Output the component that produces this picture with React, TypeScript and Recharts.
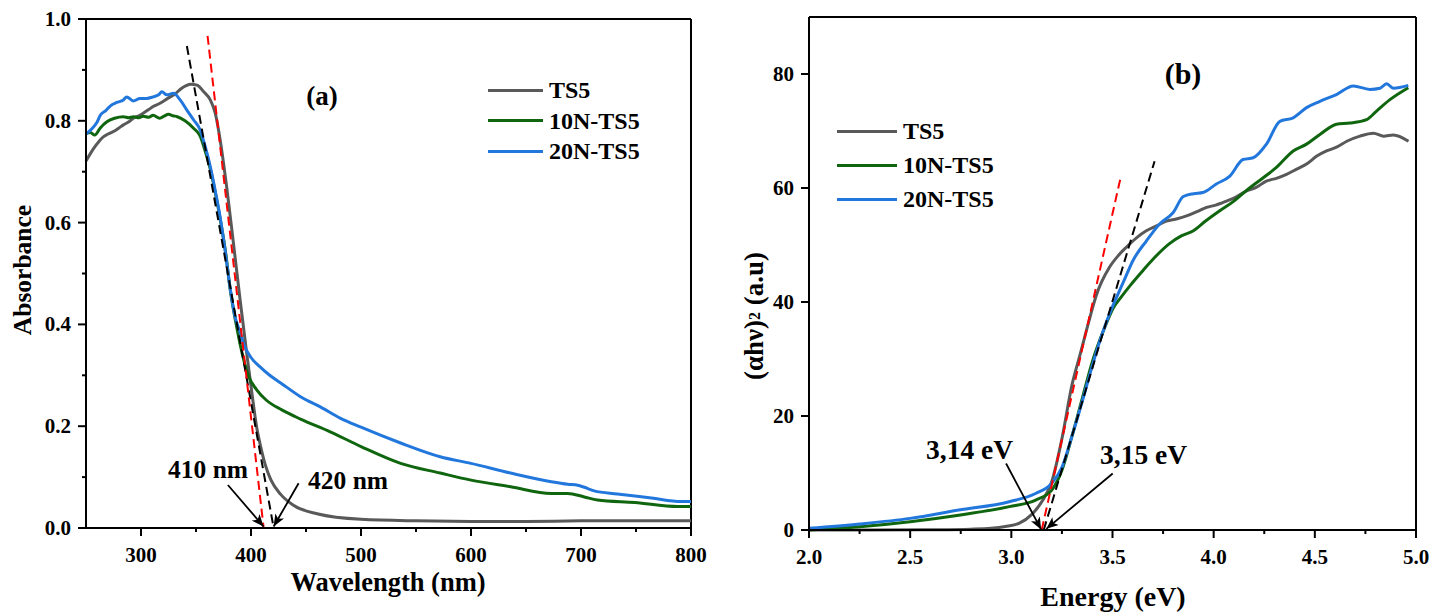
import React from 'react';
import { LineChart, Line, XAxis, YAxis, ReferenceLine, Legend } from 'recharts';

const FONT = '"Liberation Serif", "Times New Roman", serif';

const SERIES_NAMES = ['TS5', '10N-TS5', '20N-TS5'];
const SERIES_COLORS = ['#595959', '#0f660f', '#2277dd'];

// ---------- Panel (a): Absorbance vs wavelength ----------
const WL_MAJOR = [300, 400, 500, 600, 700, 800];
const WL_MINOR = [350, 450, 550, 650, 750];
const ABS_MAJOR = [0, 0.2, 0.4, 0.6, 0.8, 1.0];
const ABS_MINOR = [0.1, 0.3, 0.5, 0.7, 0.9];

const TS5_ABS = [
  [250, 0.721], [257, 0.746], [262, 0.760], [266, 0.769], [270, 0.774], [275, 0.779], [280, 0.786], [284, 0.792],
  [289, 0.798], [293, 0.805], [298, 0.810], [302, 0.815], [307, 0.822], [311, 0.828], [316, 0.833], [320, 0.838],
  [325, 0.845], [330, 0.851], [337, 0.864], [341, 0.869], [345, 0.872], [351, 0.870], [357, 0.857], [363, 0.841],
  [367.5, 0.815], [372, 0.762], [378, 0.668], [384, 0.560], [390, 0.450], [396, 0.345], [401, 0.262], [405, 0.200],
  [409, 0.158], [413, 0.124], [418, 0.095], [427, 0.066], [439, 0.044], [460, 0.028], [500, 0.017], [550, 0.014],
  [600, 0.013], [650, 0.013], [700, 0.014], [750, 0.014], [800, 0.014],
];

const N10_ABS = [
  [250, 0.775], [254, 0.777], [258, 0.772], [263, 0.786], [269, 0.798], [276, 0.805], [284, 0.808], [289, 0.806],
  [293, 0.808], [298, 0.806], [302, 0.809], [307, 0.807], [311, 0.811], [317, 0.805], [321, 0.809], [325, 0.813],
  [329, 0.810], [333, 0.808], [340, 0.800], [348, 0.785], [354, 0.769], [358, 0.743], [363, 0.705], [367, 0.665],
  [372, 0.607], [377, 0.540], [381, 0.470], [384, 0.430], [387, 0.395], [390, 0.362], [394, 0.325], [398, 0.297],
  [405, 0.272], [414, 0.251], [428, 0.232], [445, 0.214], [472, 0.189], [500, 0.160], [536, 0.127], [572, 0.108],
  [600, 0.094], [636, 0.081], [673, 0.068], [688, 0.068], [703, 0.061], [715, 0.055], [749, 0.050], [788, 0.042],
  [800, 0.042],
];

const N20_ABS = [
  [250, 0.774], [256, 0.786], [260, 0.797], [263, 0.811], [268, 0.820], [272, 0.829], [278, 0.836], [284, 0.841],
  [287, 0.847], [293, 0.839], [299, 0.844], [305, 0.844], [311, 0.847], [316, 0.851], [319, 0.857], [323.5, 0.851],
  [329.5, 0.854], [335.6, 0.841], [341.7, 0.821], [347.7, 0.802], [353.8, 0.782], [358.4, 0.749], [363, 0.710],
  [367, 0.668], [372, 0.610], [376.5, 0.545], [381, 0.472], [385, 0.420], [390, 0.385], [394, 0.358], [400, 0.335],
  [408, 0.317], [417, 0.300], [427, 0.285], [445, 0.258], [463, 0.238], [481, 0.216], [500, 0.198], [536, 0.167],
  [572, 0.140], [600, 0.127], [636, 0.108], [673, 0.091], [688, 0.086], [697, 0.084], [703, 0.080], [712, 0.073],
  [733, 0.067], [764, 0.059], [791, 0.052], [800, 0.052],
];

const FIT_RED_ABS = [[360.5, 0.967], [411.5, 0]];
const FIT_BLACK_ABS = [[341.7, 0.947], [420.6, 0]];
const ARROW_410 = [[379.0, 0.0845], [411.4, 0.003]];
const ARROW_420 = [[443.3, 0.0878], [420.6, 0.003]];

// ---------- Panel (b): Tauc plot ----------
const EN_MAJOR = [2.0, 2.5, 3.0, 3.5, 4.0, 4.5, 5.0];
const EN_MINOR = [2.25, 2.75, 3.25, 3.75, 4.25, 4.75];
const TAUC_MAJOR = [0, 20, 40, 60, 80];

const TS5_TAUC = [
  [2.0, 0], [2.3, 0], [2.6, 0.05], [2.8, 0.15], [2.9, 0.3], [2.97, 0.6], [3.04, 1.2], [3.1, 2.7], [3.155, 5.2],
  [3.2, 8.5], [3.25, 16], [3.3, 25.5], [3.34, 30.8], [3.38, 36.2], [3.42, 41.2], [3.485, 46.1], [3.53, 48.2],
  [3.568, 49.6], [3.62, 51.3], [3.667, 52.5], [3.72, 53.4], [3.766, 54.2], [3.82, 54.6], [3.866, 55.1], [3.92, 55.9],
  [3.965, 56.6], [4.01, 57.0], [4.063, 57.7], [4.11, 58.4], [4.163, 59.5], [4.21, 60.1], [4.26, 61.2], [4.31, 61.7],
  [4.36, 62.4], [4.41, 63.3], [4.459, 64.2], [4.51, 65.6], [4.558, 66.5], [4.61, 67.2], [4.658, 68.2], [4.723, 69.1],
  [4.79, 69.6], [4.84, 69.1], [4.888, 69.3], [4.963, 68.2],
];

const N10_TAUC = [
  [2.0, 0], [2.25, 0.58], [2.5, 1.46], [2.74, 2.6], [2.99, 4.1], [3.12, 5.25], [3.2, 7.0], [3.25, 10.5], [3.3, 16.5],
  [3.35, 23], [3.4, 29.5], [3.45, 34.5], [3.51, 39.3], [3.535, 40.5], [3.59, 43.0], [3.65, 45.5], [3.7, 47.5],
  [3.78, 50.2], [3.84, 51.6], [3.9, 52.5], [3.96, 54.2], [4.03, 56.0], [4.1, 57.7], [4.16, 59.5], [4.245, 61.8],
  [4.31, 63.6], [4.393, 66.5], [4.459, 67.7], [4.525, 69.4], [4.607, 71.2], [4.673, 71.4], [4.756, 72.0],
  [4.805, 73.5], [4.871, 75.5], [4.962, 77.6],
];

const N20_TAUC = [
  [2.0, 0.3], [2.25, 1.05], [2.5, 2.04], [2.74, 3.5], [2.99, 4.96], [3.12, 6.4], [3.2, 8.2], [3.25, 11], [3.3, 16.5],
  [3.35, 22.5], [3.4, 28.8], [3.45, 34.5], [3.5, 39.2], [3.52, 40.8], [3.56, 44], [3.6, 47.2], [3.667, 50.7],
  [3.733, 53.7], [3.8, 55.7], [3.85, 58.5], [3.9, 59.0], [3.947, 59.2], [4.013, 60.7], [4.08, 62.1], [4.145, 65.0],
  [4.195, 65.3], [4.261, 67.7], [4.327, 71.7], [4.393, 72.3], [4.459, 74.1], [4.525, 75.2], [4.607, 76.4],
  [4.69, 77.9], [4.772, 77.3], [4.822, 77.5], [4.855, 78.3], [4.888, 77.5], [4.962, 78.0],
];

const FIT_RED_TAUC = [[3.15, 0], [3.543, 62.3]];
const FIT_BLACK_TAUC = [[3.16, 0], [3.708, 64.7]];
const ARROW_314 = [[2.974, 11.67], [3.147, 0.1]];
const ARROW_315 = [[3.501, 9.92], [3.173, 0.2]];

const toXY = (arr: number[][]) => arr.map(([x, y]) => ({ x, y }));

const near = (list: number[], v: number) => list.some((m) => Math.abs(m - v) < 1e-6);

const XTick = (props: any) => {
  const { x, y, payload, majors, digits } = props;
  const v = payload.value;
  const major = near(majors, v);
  return (
    <g>
      <line x1={x} x2={x} y1={y} y2={y + (major ? 8 : 4)} stroke="#000" strokeWidth={2} />
      {major && (
        <text x={x} y={y + 34} textAnchor="middle" fontFamily={FONT} fontWeight="bold" fontSize={21} fill="#000">
          {v.toFixed(digits)}
        </text>
      )}
    </g>
  );
};

const YTick = (props: any) => {
  const { x, y, payload, majors, digits } = props;
  const v = payload.value;
  const major = near(majors, v);
  return (
    <g>
      <line x1={x - (major ? 8 : 4)} x2={x} y1={y} y2={y} stroke="#000" strokeWidth={2} />
      {major && (
        <text x={x - 15} y={y + 7} textAnchor="end" fontFamily={FONT} fontWeight="bold" fontSize={21} fill="#000">
          {v.toFixed(digits)}
        </text>
      )}
    </g>
  );
};

const LegendBox = ({ lineLen, rowH }: { lineLen: number; rowH: number }) => (
  <div style={{ fontFamily: FONT, fontWeight: 'bold', fontSize: 24, color: '#000' }}>
    {SERIES_NAMES.map((n, i) => (
      <div key={n} style={{ display: 'flex', alignItems: 'center', height: rowH, lineHeight: `${rowH}px` }}>
        <span style={{ display: 'inline-block', width: lineLen, height: 3, background: SERIES_COLORS[i], marginRight: 6 }} />
        <span>{n}</span>
      </div>
    ))}
  </div>
);

const txt = { fontFamily: FONT, fontWeight: 'bold' as const, fill: '#000' };

const PanelA = () => (
  <LineChart width={720} height={615} margin={{ top: 19, right: 29, bottom: 0, left: 0 }}>
    <XAxis
      type="number"
      dataKey="x"
      domain={[250, 800]}
      ticks={[...WL_MAJOR, ...WL_MINOR].sort((a, b) => a - b)}
      interval={0}
      height={87}
      tickSize={0}
      tickMargin={0}
      tickLine={false}
      axisLine={{ stroke: '#000', strokeWidth: 2 }}
      tick={<XTick majors={WL_MAJOR} digits={0} />}
    />
    <YAxis
      type="number"
      domain={[0, 1]}
      ticks={[...ABS_MAJOR, ...ABS_MINOR].sort((a, b) => a - b)}
      interval={0}
      width={86}
      tickSize={0}
      tickMargin={0}
      tickLine={false}
      axisLine={{ stroke: '#000', strokeWidth: 2 }}
      tick={<YTick majors={ABS_MAJOR} digits={1} />}
    />
    <ReferenceLine y={1} stroke="#000" strokeWidth={2} />
    <ReferenceLine x={800} stroke="#000" strokeWidth={2} />
    {[TS5_ABS, N10_ABS, N20_ABS].map((d, i) => (
      <Line
        key={SERIES_NAMES[i]}
        data={toXY(d)}
        dataKey="y"
        name={SERIES_NAMES[i]}
        type="monotone"
        stroke={SERIES_COLORS[i]}
        strokeWidth={3}
        dot={false}
        isAnimationActive={false}
      />
    ))}
    <Line data={toXY(FIT_BLACK_ABS)} dataKey="y" type="linear" stroke="#000" strokeWidth={2} strokeDasharray="9 5" dot={false} legendType="none" isAnimationActive={false} />
    <Line data={toXY(FIT_RED_ABS)} dataKey="y" type="linear" stroke="#ff0000" strokeWidth={2} strokeDasharray="9 5" dot={false} legendType="none" isAnimationActive={false} />
    <Line data={toXY(ARROW_410)} dataKey="y" type="linear" stroke="#000" strokeWidth={1.8} dot={false} legendType="none" markerEnd="url(#arrowHead)" isAnimationActive={false} />
    <Line data={toXY(ARROW_420)} dataKey="y" type="linear" stroke="#000" strokeWidth={1.8} dot={false} legendType="none" markerEnd="url(#arrowHead)" isAnimationActive={false} />
    <Legend
      layout="vertical"
      align="center"
      verticalAlign="middle"
      wrapperStyle={{ left: 488, top: 75, width: 'auto' }}
      content={() => <LegendBox lineLen={55} rowH={30.5} />}
    />
    <text x={322} y={105} textAnchor="middle" fontSize={27} {...txt}>(a)</text>
    <text x={168} y={478} fontSize={25.5} {...txt}>410 nm</text>
    <text x={308} y={489} fontSize={25.5} {...txt}>420 nm</text>
    <text x={388} y={591} textAnchor="middle" fontSize={26.5} {...txt}>Wavelength (nm)</text>
    <text transform="translate(31 270) rotate(-90)" textAnchor="middle" fontSize={25.5} {...txt}>Absorbance</text>
  </LineChart>
);

const PanelB = () => (
  <LineChart width={712} height={615} margin={{ top: 17, right: 16, bottom: 0, left: 0 }}>
    <XAxis
      type="number"
      dataKey="x"
      domain={[2, 5]}
      ticks={[...EN_MAJOR, ...EN_MINOR].sort((a, b) => a - b)}
      interval={0}
      height={85}
      tickSize={0}
      tickMargin={0}
      tickLine={false}
      axisLine={{ stroke: '#000', strokeWidth: 2 }}
      tick={<XTick majors={EN_MAJOR} digits={1} />}
    />
    <YAxis
      type="number"
      domain={[0, 90]}
      ticks={TAUC_MAJOR}
      interval={0}
      width={89}
      tickSize={0}
      tickMargin={0}
      tickLine={false}
      axisLine={{ stroke: '#000', strokeWidth: 2 }}
      tick={<YTick majors={TAUC_MAJOR} digits={0} />}
    />
    <ReferenceLine y={90} stroke="#000" strokeWidth={2} />
    <ReferenceLine x={5} stroke="#000" strokeWidth={2} />
    {[TS5_TAUC, N10_TAUC, N20_TAUC].map((d, i) => (
      <Line
        key={SERIES_NAMES[i]}
        data={toXY(d)}
        dataKey="y"
        name={SERIES_NAMES[i]}
        type="monotone"
        stroke={SERIES_COLORS[i]}
        strokeWidth={3}
        dot={false}
        isAnimationActive={false}
      />
    ))}
    <Line data={toXY(FIT_BLACK_TAUC)} dataKey="y" type="linear" stroke="#000" strokeWidth={2} strokeDasharray="9 5" dot={false} legendType="none" isAnimationActive={false} />
    <Line data={toXY(FIT_RED_TAUC)} dataKey="y" type="linear" stroke="#ff0000" strokeWidth={2} strokeDasharray="9 5" dot={false} legendType="none" isAnimationActive={false} />
    <Line data={toXY(ARROW_314)} dataKey="y" type="linear" stroke="#000" strokeWidth={1.8} dot={false} legendType="none" markerEnd="url(#arrowHead)" isAnimationActive={false} />
    <Line data={toXY(ARROW_315)} dataKey="y" type="linear" stroke="#000" strokeWidth={1.8} dot={false} legendType="none" markerEnd="url(#arrowHead)" isAnimationActive={false} />
    <Legend
      layout="vertical"
      align="center"
      verticalAlign="middle"
      wrapperStyle={{ left: 117, top: 114, width: 'auto' }}
      content={() => <LegendBox lineLen={60} rowH={34} />}
    />
    <text x={463} y={84} textAnchor="middle" fontSize={30} {...txt}>(b)</text>
    <text x={206} y={459} fontSize={27.5} {...txt}>3,14 eV</text>
    <text x={380} y={464} fontSize={27.5} {...txt}>3,15 eV</text>
    <text x={393} y={606} textAnchor="middle" fontSize={28} {...txt}>Energy (eV)</text>
    <text transform="translate(43 316) rotate(-90)" textAnchor="middle" fontSize={27} {...txt}>
      (αhν)<tspan fontSize={16} dy={-3}>2</tspan><tspan dy={3}> (a.u)</tspan>
    </text>
  </LineChart>
);

export default function App() {
  return (
    <div style={{ position: 'absolute', left: 0, top: 0, width: 1432, height: 615, background: '#fff', overflow: 'hidden' }}>
      <svg width={0} height={0} style={{ position: 'absolute' }}>
        <defs>
          <marker id="arrowHead" viewBox="0 0 12 10" refX={12} refY={5} markerWidth={13} markerHeight={10}
            markerUnits="userSpaceOnUse" orient="auto">
            <path d="M0,0 L12,5 L0,10 L3,5 Z" fill="#000" />
          </marker>
        </defs>
      </svg>
      <div style={{ position: 'absolute', left: 0, top: 0 }}>
        <PanelA />
      </div>
      <div style={{ position: 'absolute', left: 720, top: 0 }}>
        <PanelB />
      </div>
    </div>
  );
}
